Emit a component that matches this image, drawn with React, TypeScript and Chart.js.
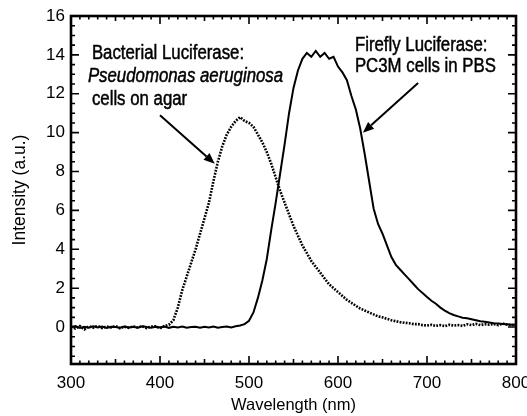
import React, { useEffect, useRef } from "react";
import { Chart, registerables } from "chart.js";

Chart.register(...registerables);

const FONT = "'Liberation Sans', Arial, Helvetica, sans-serif";

const wavelengths = [
  300, 305, 310, 315, 320, 325, 330, 335, 340, 345,
  350, 355, 360, 365, 370, 375, 380, 385, 390, 395,
  400, 405, 410, 415, 420, 425, 430, 435, 440, 445,
  450, 455, 460, 465, 470, 475, 480, 485, 490, 495,
  500, 505, 510, 515, 520, 525, 530, 535, 540, 545,
  550, 555, 560, 565, 570, 575, 580, 585, 590, 595,
  600, 605, 610, 615, 620, 625, 630, 635, 640, 645,
  650, 655, 660, 665, 670, 675, 680, 685, 690, 695,
  700, 705, 710, 715, 720, 725, 730, 735, 740, 745,
  750, 755, 760, 765, 770, 775, 780, 785, 790, 795,
  800,
];

const bacterialIntensity = [
  0.02, -0.08, 0.05, -0.12, 0.04, -0.03, 0.06, -0.05, 0.03, -0.02,
  0.05, -0.06, 0.02, -0.04, 0.03, -0.02, 0.04, -0.05, 0.02, 0.04,
  -0.06, 0.05, 0.12, 0.35, 1.0, 1.9, 2.6, 3.3, 4.0, 4.8,
  5.6, 6.4, 7.5, 8.5, 9.3, 9.9, 10.3, 10.6, 10.8, 10.6,
  10.5, 10.3, 9.9, 9.5, 9.0, 8.4, 7.7, 7.0, 6.4, 5.8,
  5.2, 4.7, 4.2, 3.8, 3.4, 3.1, 2.8, 2.5, 2.2, 2.0,
  1.8, 1.6, 1.4, 1.25, 1.1, 0.95, 0.85, 0.75, 0.65, 0.55,
  0.5, 0.42, 0.35, 0.3, 0.25, 0.22, 0.2, 0.15, 0.15, 0.1,
  0.08, 0.12, 0.06, 0.1, 0.05, 0.12, 0.08, 0.1, 0.06, 0.14,
  0.1, 0.16, 0.1, 0.15, 0.12, 0.16, 0.1, 0.18, 0.12, 0.1,
  0.15,
];

const fireflyIntensity = [
  0.0, 0.05, -0.05, 0.02, -0.03, 0.04, -0.02, 0.03, -0.04, 0.02,
  0.0, -0.03, 0.03, -0.02, 0.02, -0.03, 0.04, 0.0, -0.03, 0.02,
  -0.02, 0.03, -0.04, 0.02, -0.02, 0.03, -0.03, 0.0, 0.02, -0.03,
  0.02, -0.02, 0.03, -0.03, 0.0, 0.03, -0.02, 0.04, 0.08, 0.15,
  0.32, 0.75, 1.5, 2.4, 3.5, 5.0, 6.4, 7.9, 9.4, 11.0,
  12.3, 13.2, 13.8, 14.1, 13.9, 14.2, 13.9, 14.1, 13.8, 13.9,
  13.4, 13.1, 12.7, 11.9, 11.2, 10.2, 8.9, 7.5, 6.1, 5.3,
  4.8, 4.2, 3.6, 3.2, 2.95, 2.7, 2.45, 2.2, 1.95, 1.75,
  1.55, 1.35, 1.2, 1.0, 0.85, 0.72, 0.62, 0.55, 0.48, 0.45,
  0.4, 0.35, 0.3, 0.27, 0.24, 0.2, 0.18, 0.16, 0.14, 0.12,
  0.12,
];

const xTickValues = [300, 400, 500, 600, 700, 800];
const yTickValues = [0, 2, 4, 6, 8, 10, 12, 14, 16];

const bacterialLabel = ["Bacterial Luciferase:", "Pseudomonas aeruginosa", "cells on agar"];
const fireflyLabel = ["Firefly Luciferase:", "PC3M cells in PBS"];

const frameAndNotes = {
  id: "frameAndNotes",
  afterDraw(chart: any) {
    const { ctx, chartArea, scales } = chart;
    const { left, right, top, bottom } = chartArea;
    const x = scales.x;
    const y = scales.y;
    ctx.save();
    ctx.strokeStyle = "#000";
    ctx.fillStyle = "#000";
    ctx.lineCap = "butt";

    ctx.lineWidth = 1.6;
    ctx.beginPath();
    for (let v = 300; v <= 800; v += 10) {
      const px = x.getPixelForValue(v);
      const len = v % 100 === 0 ? 8 : v % 50 === 0 ? 5 : 3.5;
      ctx.moveTo(px, bottom);
      ctx.lineTo(px, bottom - len);
      ctx.moveTo(px, top);
      ctx.lineTo(px, top + len);
    }
    for (let k = -3; k <= 32; k++) {
      const v = k / 2;
      if (v < y.min || v > y.max) continue;
      const py = y.getPixelForValue(v);
      const len = k % 4 === 0 ? 8 : 4;
      ctx.moveTo(left, py);
      ctx.lineTo(left + len, py);
      ctx.moveTo(right, py);
      ctx.lineTo(right - len, py);
    }
    ctx.stroke();

    ctx.lineWidth = 2.6;
    ctx.strokeRect(left, top, right - left, bottom - top);

    const arrow = (x0: number, y0: number, x1: number, y1: number) => {
      const ax0 = x.getPixelForValue(x0);
      const ay0 = y.getPixelForValue(y0);
      const ax1 = x.getPixelForValue(x1);
      const ay1 = y.getPixelForValue(y1);
      const ang = Math.atan2(ay1 - ay0, ax1 - ax0);
      const hl = 11;
      const hw = 4.5;
      const bx = ax1 - hl * Math.cos(ang);
      const by = ay1 - hl * Math.sin(ang);
      ctx.lineWidth = 2;
      ctx.beginPath();
      ctx.moveTo(ax0, ay0);
      ctx.lineTo(bx, by);
      ctx.stroke();
      ctx.beginPath();
      ctx.moveTo(ax1, ay1);
      ctx.lineTo(bx + hw * Math.sin(ang), by - hw * Math.cos(ang));
      ctx.lineTo(bx - hw * Math.sin(ang), by + hw * Math.cos(ang));
      ctx.closePath();
      ctx.fill();
    };

    const sx = 0.84;
    const text = (s: string, px: number, py: number, italic: boolean) => {
      ctx.save();
      ctx.font = `${italic ? "italic " : ""}20px ${FONT}`;
      ctx.translate(px, py);
      ctx.scale(sx, 1);
      ctx.textAlign = "left";
      ctx.textBaseline = "alphabetic";
      ctx.lineWidth = 0.5;
      ctx.fillText(s, 0, 0);
      ctx.strokeText(s, 0, 0);
      ctx.restore();
    };

    const bx0 = x.getPixelForValue(323.5);
    text(bacterialLabel[0], bx0, y.getPixelForValue(13.8), false);
    text(bacterialLabel[1], bx0 - 4, y.getPixelForValue(12.6), true);
    text(bacterialLabel[2], bx0, y.getPixelForValue(11.4), false);

    const fx0 = x.getPixelForValue(619);
    text(fireflyLabel[0], fx0, y.getPixelForValue(14.2), false);
    text(fireflyLabel[1], fx0, y.getPixelForValue(13.1), false);

    arrow(400, 10.9, 461.5, 8.4);
    arrow(690, 12.55, 628, 10.0);

    ctx.restore();
  },
};

export default function App() {
  const ref = useRef<HTMLCanvasElement | null>(null);

  useEffect(() => {
    document.body.style.margin = "0";
    const canvas = ref.current;
    if (!canvas) return;
    const chart = new Chart(canvas, {
      type: "line",
      data: {
        datasets: [
          {
            label: "Bacterial Luciferase",
            data: wavelengths.map((w, i) => ({ x: w, y: bacterialIntensity[i] })),
            borderColor: "#000",
            borderWidth: 2.6,
            borderDash: [1.8, 1.3],
            pointRadius: 0,
            tension: 0,
            fill: false,
          },
          {
            label: "Firefly Luciferase",
            data: wavelengths.map((w, i) => ({ x: w, y: fireflyIntensity[i] })),
            borderColor: "#000",
            borderWidth: 2,
            pointRadius: 0,
            tension: 0,
            fill: false,
          },
        ],
      },
      options: {
        animation: false,
        responsive: false,
        maintainAspectRatio: false,
        layout: { padding: { top: 16, right: 11, left: 0, bottom: 0 } },
        plugins: { legend: { display: false }, tooltip: { enabled: false } },
        scales: {
          x: {
            type: "linear",
            min: 300,
            max: 800,
            grid: { display: false, drawTicks: false },
            border: { display: false },
            afterBuildTicks: (s: any) => {
              s.ticks = xTickValues.map((v) => ({ value: v }));
            },
            afterFit: (s: any) => {
              s.height = 52;
              s.paddingLeft = 0;
              s.paddingRight = 0;
            },
            ticks: {
              padding: 9,
              color: "#000",
              maxRotation: 0,
              autoSkip: false,
              font: { family: FONT, size: 17 },
            },
            title: {
              display: true,
              text: "Wavelength (nm)",
              color: "#000",
              font: { family: FONT, size: 16.5 },
              padding: { top: 0, bottom: 1 },
            },
          },
          y: {
            type: "linear",
            min: -1.9,
            max: 16,
            grid: { display: false, drawTicks: false },
            border: { display: false },
            afterBuildTicks: (s: any) => {
              s.ticks = yTickValues.map((v) => ({ value: v }));
            },
            afterFit: (s: any) => {
              s.width = 71;
              s.paddingTop = 0;
              s.paddingBottom = 0;
            },
            ticks: {
              padding: 6,
              color: "#000",
              autoSkip: false,
              font: { family: FONT, size: 17 },
            },
            title: {
              display: true,
              text: "Intensity (a.u.)",
              color: "#000",
              font: { family: FONT, size: 17.5 },
              padding: { top: 10, bottom: 0 },
            },
          },
        },
      },
      plugins: [frameAndNotes],
    });
    return () => chart.destroy();
  }, []);

  return (
    <div style={{ position: "absolute", left: 0, top: 0, width: 527, height: 416, background: "#fff" }}>
      <canvas ref={ref} width={527} height={416} style={{ width: 527, height: 416, display: "block" }} />
    </div>
  );
}
